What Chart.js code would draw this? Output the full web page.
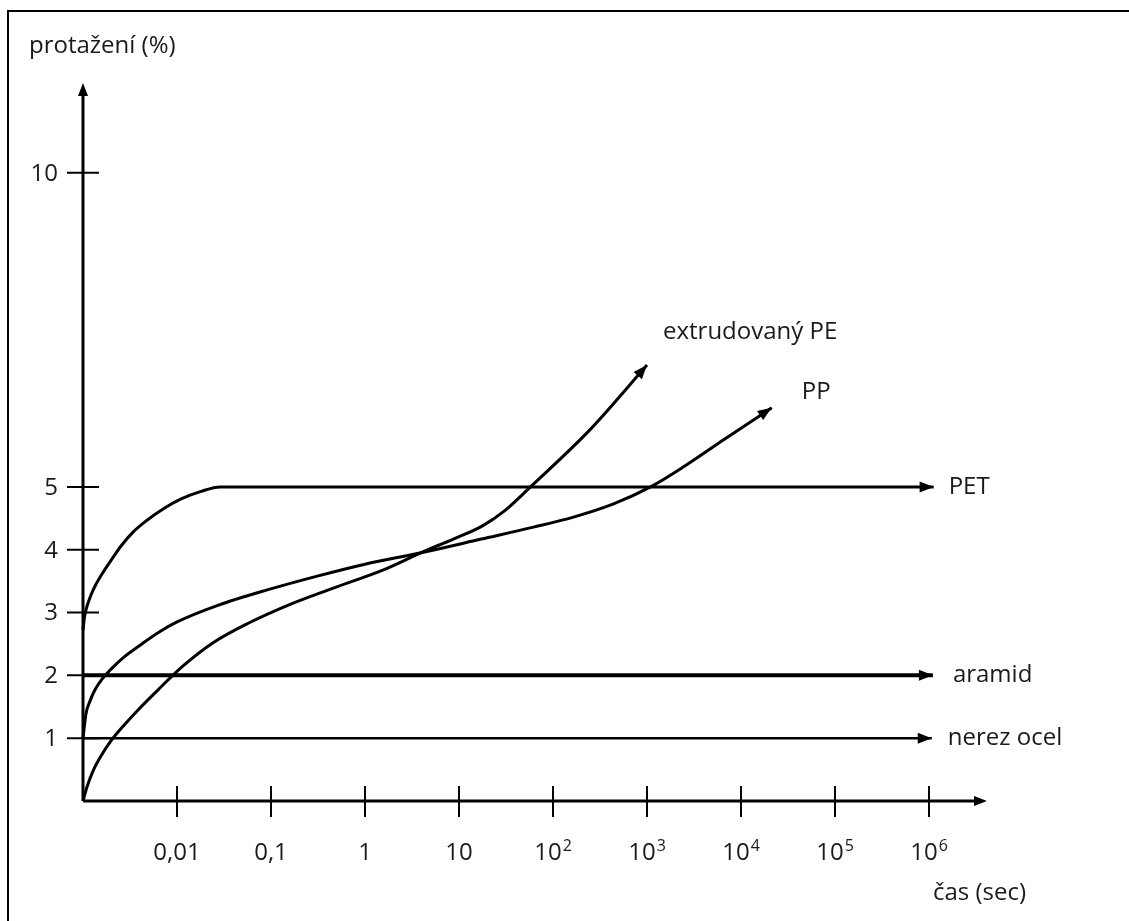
<!DOCTYPE html>
<html><head><meta charset="utf-8">
<script src="https://cdn.jsdelivr.net/npm/chart.js@4.4.1/dist/chart.umd.min.js"></script>
<style>html,body{margin:0;padding:0;background:#fff;overflow:hidden}#wrap{width:1129px;height:921px;position:relative}</style>
</head><body><div id="wrap"><canvas id="c" width="1129" height="921"></canvas></div>
<script>
// ---- data ----
const yTickValues = [1, 2, 3, 4, 5, 10];
const xTickValues = [0.01, 0.1, 1, 10, 1e2, 1e3, 1e4, 1e5, 1e6];
const xTickBase = ['0,01', '0,1', '1', '10', '10', '10', '10', '10', '10'];
const xTickExp = ['', '', '', '', '2', '3', '4', '5', '6'];
const yAxisTitle = 'protažení (%)';
const xAxisTitle = 'čas (sec)';

const seriesNames = ['extrudovaný PE', 'PP', 'PET', 'aramid', 'nerez ocel'];

const peTime  = [0.001, 0.0011, 0.00128, 0.00156, 0.00199, 0.00267, 0.00385, 0.00629, 0.0116, 0.0242, 0.0572, 0.153, 0.46, 1.57, 4.18, 8.72, 17.8, 31.2, 57.6, 251, 1000];
const peValue = [0,     0.22,   0.48,    0.72,    0.96,    1.19,    1.45,    1.77,    2.15,   2.52,   2.83,   3.12,  3.39, 3.68, 3.97, 4.17, 4.38, 4.63, 5.0, 5.92, 6.94];

const ppTime  = [0.001, 0.001076, 0.001187, 0.001342, 0.001593, 0.001987, 0.002667, 0.004046, 0.00629, 0.01002, 0.02673, 0.0911, 0.3105, 1.0, 4.18, 17.3, 62.0, 165, 441, 1092, 2454, 6543, 21230];
const ppValue = [1.0,   1.39,     1.59,     1.77,     1.94,     2.10,     2.28,     2.48,     2.68,    2.85,    3.11,    3.36,   3.58,   3.77, 3.96, 4.17, 4.36, 4.52, 4.73, 5.0, 5.32, 5.75, 6.26];

const petTime  = [0.001, 0.001037, 0.001103, 0.001216, 0.001375, 0.001633, 0.001987, 0.00254, 0.003408, 0.004804, 0.007112, 0.01106, 0.01806, 0.02877, 1.12e6];
const petValue = [2.72,  2.93,     3.10,     3.28,     3.45,     3.64,     3.83,     4.06,    4.28,     4.47,     4.65,     4.81,    4.93,    5.0,     5.0];

const aramidTime  = [0.001, 1.1e6];
const aramidValue = [2, 2];

const steelTime  = [0.001, 1.07e6];
const steelValue = [1, 1];

// ---- chart ----
const FONT = '"Open Sans"';
const FS = 24;
const TEXT = '#1a1a1a';
const mk = (name, t, v, w) => ({
  label: name,
  data: t.map((x, i) => ({x: x, y: v[i]})),
  borderColor: '#000', borderWidth: w, pointRadius: 0, fill: false,
  cubicInterpolationMode: 'monotone', clip: false, borderCapStyle: 'butt', borderJoinStyle: 'round'
});

const labelOffsets = [[16, -33], [30, -16], [15, 0], [20, 0], [16, 0]];

const drawPlugin = {
  id: 'sketch',
  beforeDraw(chart) {
    const ctx = chart.ctx;
    ctx.save();
    ctx.fillStyle = '#fff';
    ctx.fillRect(0, 0, chart.width, chart.height);
    ctx.strokeStyle = '#000';
    ctx.lineWidth = 2;
    ctx.beginPath();
    ctx.moveTo(8, chart.height + 5);
    ctx.lineTo(8, 11);
    ctx.lineTo(chart.width + 5, 11);
    ctx.stroke();
    ctx.restore();
  },
  afterDatasetsDraw(chart) {
    const ctx = chart.ctx;
    const xs = chart.scales.x, ys = chart.scales.y;
    const ox = xs.getPixelForValue(xs.min), oy = ys.getPixelForValue(0);
    const ex = xs.getPixelForValue(xs.max), ey = ys.getPixelForValue(ys.max);
    ctx.save();
    ctx.strokeStyle = '#000';
    ctx.fillStyle = '#000';
    ctx.lineWidth = 3;
    ctx.beginPath();
    ctx.moveTo(ox, oy); ctx.lineTo(ex - 8, oy);
    ctx.moveTo(ox, oy); ctx.lineTo(ox, ey + 8);
    ctx.stroke();
    const arrow = (tx, ty, fx, fy, L, W) => {
      const a = Math.atan2(ty - fy, tx - fx);
      ctx.beginPath();
      ctx.moveTo(tx, ty);
      ctx.lineTo(tx - L * Math.cos(a) + W * Math.sin(a), ty - L * Math.sin(a) - W * Math.cos(a));
      ctx.lineTo(tx - L * Math.cos(a) - W * Math.sin(a), ty - L * Math.sin(a) + W * Math.cos(a));
      ctx.closePath();
      ctx.fill();
    };
    arrow(ex, oy, ox, oy, 13, 5);
    arrow(ox, ey, ox, oy, 13, 5);
    ctx.lineWidth = 2;
    ctx.beginPath();
    yTickValues.forEach(v => { const p = ys.getPixelForValue(v); ctx.moveTo(ox - 16, p); ctx.lineTo(ox + 16, p); });
    xTickValues.forEach(v => { const p = xs.getPixelForValue(v); ctx.moveTo(p, oy - 15); ctx.lineTo(p, oy + 16); });
    ctx.stroke();
    ctx.fillStyle = TEXT;
    ctx.font = FS + 'px ' + FONT;
    ctx.textBaseline = 'middle';
    ctx.textAlign = 'right';
    yTickValues.forEach(v => ctx.fillText(String(v), ox - 25, ys.getPixelForValue(v) + 1));
    ctx.textAlign = 'left';
    xTickValues.forEach((v, i) => {
      const p = xs.getPixelForValue(v);
      ctx.font = FS + 'px ' + FONT;
      const bw = ctx.measureText(xTickBase[i]).width;
      ctx.font = '16px ' + FONT;
      const ew = xTickExp[i] ? ctx.measureText(xTickExp[i]).width + 1 : 0;
      const start = p - (bw + ew) / 2;
      ctx.font = FS + 'px ' + FONT;
      ctx.fillText(xTickBase[i], start, oy + 52);
      if (xTickExp[i]) { ctx.font = '16px ' + FONT; ctx.fillText(xTickExp[i], start + bw + 1, oy + 45); }
    });
    ctx.font = FS + 'px ' + FONT;
    ctx.fillText(yAxisTitle, 29, 46);
    ctx.fillText(xAxisTitle, 933, 893);
    chart.data.datasets.forEach((ds, di) => {
      const meta = chart.getDatasetMeta(di);
      const pts = meta.data;
      const last = pts[pts.length - 1];
      let fx = last.cp1x, fy = last.cp1y;
      if (fx === undefined || (Math.abs(fx - last.x) < 0.5 && Math.abs(fy - last.y) < 0.5)) {
        fx = pts[pts.length - 2].x; fy = pts[pts.length - 2].y;
      }
      ctx.fillStyle = '#000';
      arrow(last.x, last.y, fx, fy, 14, 5.5);
      ctx.fillStyle = TEXT;
      ctx.font = FS + 'px ' + FONT;
      ctx.textAlign = 'left';
      ctx.fillText(ds.label, last.x + labelOffsets[di][0], last.y + labelOffsets[di][1]);
    });
    ctx.restore();
  }
};

new Chart(document.getElementById('c'), {
  type: 'line',
  data: {
    datasets: [
      mk(seriesNames[0], peTime, peValue, 3),
      mk(seriesNames[1], ppTime, ppValue, 3),
      mk(seriesNames[2], petTime, petValue, 3),
      mk(seriesNames[3], aramidTime, aramidValue, 4),
      mk(seriesNames[4], steelTime, steelValue, 2.5)
    ]
  },
  options: {
    responsive: false, animation: false, devicePixelRatio: 1,
    layout: {padding: {left: 83, top: 83, right: 142, bottom: 120}},
    plugins: {legend: {display: false}, tooltip: {enabled: false}},
    scales: {
      x: {type: 'logarithmic', min: 0.001, max: 4.14e6, display: false},
      y: {type: 'linear', min: 0, max: 11.43, display: false}
    }
  },
  plugins: [drawPlugin]
});
</script></body></html>
